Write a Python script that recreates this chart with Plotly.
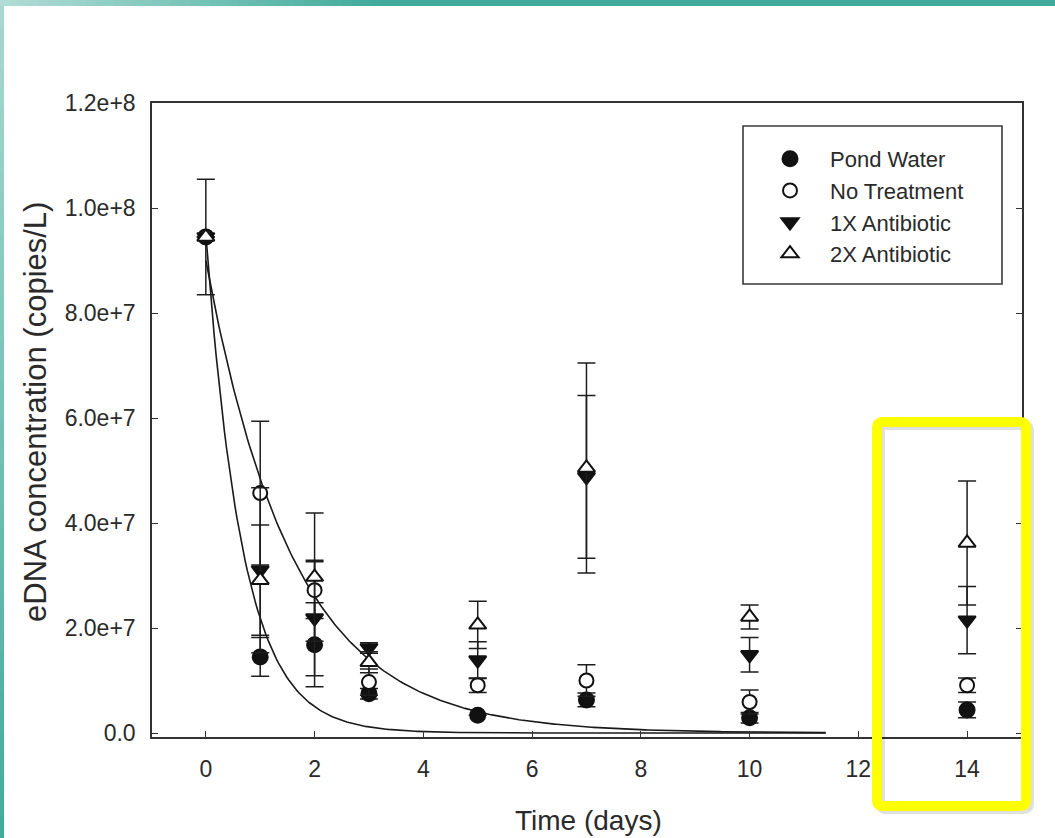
import numpy as np
import plotly.graph_objects as go

# ---- measured eDNA concentrations (copies/L) ----
days = [0, 1, 2, 3, 5, 7, 10, 14]

pond_water = [9.45e7, 1.45e7, 1.68e7, 0.75e7, 0.34e7, 0.63e7, 0.29e7, 0.44e7]
pond_water_err = [0, 0.37e7, 0.80e7, 0.10e7, 0, 0.13e7, 0.10e7, 0.15e7]

no_treatment = [9.45e7, 4.57e7, 2.72e7, 0.97e7, 0.91e7, 1.00e7, 0.59e7, 0.91e7]
no_treatment_err = [1.10e7, 1.37e7, 0.54e7, 0.25e7, 0.14e7, 0.30e7, 0.23e7, 0.14e7]

antibiotic_1x = [9.45e7, 3.10e7, 2.19e7, 1.62e7, 1.39e7, 4.88e7, 1.49e7, 2.15e7]
antibiotic_1x_err = [0, 1.57e7, 1.10e7, 0.10e7, 0.35e7, 1.55e7, 0.33e7, 0.64e7]

antibiotic_2x = [9.45e7, 2.91e7, 2.97e7, 1.35e7, 2.06e7, 5.05e7, 2.21e7, 3.62e7]
antibiotic_2x_err = [0, 1.05e7, 1.22e7, 0.20e7, 0.45e7, 2.00e7, 0.23e7, 1.18e7]

# single exponential decay fits  y = a * exp(-b * t)
fast_fit = (9.5e7, 1.47)
slow_fit = (9.0e7, 0.62)
fit_end_day = 11.4

y_tickvals = [0, 2e7, 4e7, 6e7, 8e7, 1.0e8, 1.2e8]
y_ticktext = ["0.0", "2.0e+7", "4.0e+7", "6.0e+7", "8.0e+7", "1.0e+8", "1.2e+8"]
x_tickvals = [0, 2, 4, 6, 8, 10, 12, 14]

# ---- page geometry (pixels) ----
W, H = 1055, 838
L, R, T, B = 152, 1022, 103, 737   # plot frame edges


def px(xp):
    return (xp - L) / (R - L)


def py(yp):
    return (B - yp) / (B - T)


FONT = "Liberation Sans, Arial, sans-serif"
INK = "#2a2a2a"

fig = go.Figure()

t_fit = np.linspace(0, fit_end_day, 300)
for a, b in (fast_fit, slow_fit):
    fig.add_trace(go.Scatter(
        x=t_fit, y=a * np.exp(-b * t_fit), mode="lines",
        line=dict(color="#1a1a1a", width=1.6), showlegend=False, hoverinfo="skip"))

series = [
    ("Pond Water", pond_water, pond_water_err, "circle", "#111111", 15),
    ("No Treatment", no_treatment, no_treatment_err, "circle", "white", 14),
    ("1X Antibiotic", antibiotic_1x, antibiotic_1x_err, "triangle-down", "#111111", 15),
    ("2X Antibiotic", antibiotic_2x, antibiotic_2x_err, "triangle-up", "white", 15),
]
for name, vals, errs, sym, fill, size in series:
    fig.add_trace(go.Scatter(
        x=days, y=vals, name=name, mode="markers",
        marker=dict(symbol=sym, color=fill, size=size,
                    line=dict(color="#111111", width=2)),
        error_y=dict(type="data", array=errs, visible=True,
                     color="#1e1e1e", thickness=1.5, width=9),
    ))

shapes = []

# teal frame along the top and left edges of the page
def lerp(c1, c2, f):
    return "rgb(%d,%d,%d)" % tuple(round(c1[i] + (c2[i] - c1[i]) * f) for i in range(3))

light = (178, 220, 214)
teal = (64, 171, 155)
n = 40
for i in range(n):
    x0 = 380 * i / n
    x1 = 380 * (i + 1) / n + 1
    shapes.append(dict(type="rect", xref="paper", yref="paper",
                       x0=px(x0), x1=px(x1), y0=py(6), y1=py(0),
                       fillcolor=lerp(light, teal, (i + 0.5) / n), line=dict(width=0), layer="above"))
shapes.append(dict(type="rect", xref="paper", yref="paper",
                   x0=px(380), x1=px(W), y0=py(6), y1=py(0),
                   fillcolor=lerp(light, teal, 1), line=dict(width=0), layer="above"))
for i in range(n):
    y0 = 6 + (H - 6) * i / n
    y1 = 6 + (H - 6) * (i + 1) / n + 1
    shapes.append(dict(type="rect", xref="paper", yref="paper",
                       x0=px(0), x1=px(4), y0=py(y1), y1=py(y0),
                       fillcolor=lerp((168, 216, 209), teal, (i + 0.5) / n), line=dict(width=0), layer="above"))

# legend frame
shapes.append(dict(type="rect", xref="paper", yref="paper",
                   x0=px(743), x1=px(1002), y0=py(284), y1=py(126),
                   line=dict(color="#3a3a3a", width=1.6), fillcolor="rgba(0,0,0,0)", layer="above"))


# rounded yellow highlight box
def rounded_path(xl, xr, yt, yb, r):
    pts = [
        f"M {px(xl + r)} {py(yt)}",
        f"L {px(xr - r)} {py(yt)}",
        f"Q {px(xr)} {py(yt)} {px(xr)} {py(yt + r)}",
        f"L {px(xr)} {py(yb - r)}",
        f"Q {px(xr)} {py(yb)} {px(xr - r)} {py(yb)}",
        f"L {px(xl + r)} {py(yb)}",
        f"Q {px(xl)} {py(yb)} {px(xl)} {py(yb - r)}",
        f"L {px(xl)} {py(yt + r)}",
        f"Q {px(xl)} {py(yt)} {px(xl + r)} {py(yt)}",
        "Z",
    ]
    return " ".join(pts)

shapes.append(dict(type="path", xref="paper", yref="paper",
                   path=rounded_path(880, 1029, 425, 809, 6),
                   line=dict(color="rgba(0,0,0,0.12)", width=10), layer="above"))
shapes.append(dict(type="path", xref="paper", yref="paper",
                   path=rounded_path(877, 1026, 422, 806, 6),
                   line=dict(color="#ffff00", width=10), layer="above"))

annotations = [
    dict(text="Time (days)", xref="paper", yref="paper", x=px(588), y=py(820),
         showarrow=False, font=dict(family=FONT, size=28, color=INK),
         xanchor="center", yanchor="middle"),
    dict(text="eDNA concentration (copies/L)", xref="paper", yref="paper",
         x=px(35), y=py(412), textangle=-90, showarrow=False,
         font=dict(family=FONT, size=31, color=INK), xanchor="center", yanchor="middle"),
]

axis_common = dict(showline=True, linecolor="#333333", linewidth=1.5,
                   ticks="inside", ticklen=6, tickwidth=1.3, tickcolor="#333333",
                   showgrid=False, zeroline=False,
                   tickfont=dict(family=FONT, size=23, color=INK))

fig.update_layout(
    width=W, height=H,
    margin=dict(l=L, r=W - R, t=T, b=H - B),
    paper_bgcolor="white", plot_bgcolor="white",
    xaxis=dict(range=[-0.99, 15.01], tickvals=x_tickvals, mirror=True,
               ticklabelstandoff=11, **axis_common),
    yaxis=dict(range=[-0.076e7, 1.2e8], tickvals=y_tickvals, ticktext=y_ticktext,
               mirror="ticks", ticklabelstandoff=10, **axis_common),
    legend=dict(x=px(750), y=py(138), xanchor="left", yanchor="top",
                bgcolor="rgba(0,0,0,0)", borderwidth=0, itemwidth=70,
                font=dict(family=FONT, size=22, color=INK)),
    shapes=shapes, annotations=annotations,
    showlegend=True,
)

fig.write_html("out.html")
